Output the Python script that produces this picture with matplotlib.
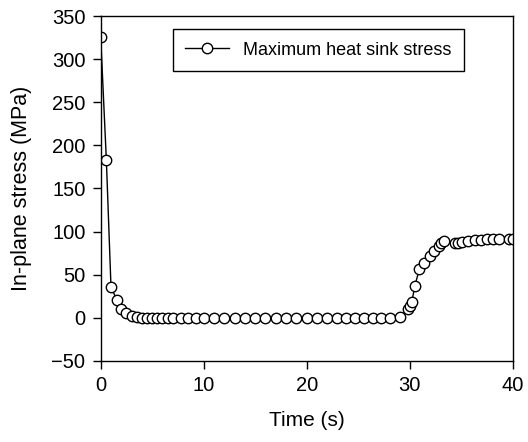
import matplotlib
matplotlib.use('Agg')
import matplotlib.pyplot as plt

plt.rcParams['font.family'] = ['Liberation Sans', 'DejaVu Sans']

# time (s) and maximum in-plane stress in the heat sink (MPa)
time_s = [0.0, 0.55, 1.0, 1.55, 2.0, 2.45, 3.0, 3.5, 4.0, 4.5, 5.0, 5.5, 6.0,
          6.5, 7.0, 7.75, 8.5, 9.25, 10, 11, 12, 13, 14, 15, 16, 17, 18, 19,
          20, 21, 22, 22.9, 23.8, 24.7, 25.6, 26.4, 27.2, 28.1, 29.05,
          29.8, 30.0, 30.2, 30.5, 30.95, 31.4, 32.0, 32.4, 32.8, 33.0, 33.3,
          34.4, 34.7, 35.1, 35.7, 36.3, 36.9, 37.5, 38.1, 38.7, 39.6, 40.0]
stress = [326, 183, 36, 21, 10, 6, 2, 0.5, 0, 0, 0, 0, 0,
          0, 0, 0, 0, 0, 0, 0, 0, 0, 0, 0, 0, 0, 0, 0,
          0, 0, 0, 0, 0, 0, 0, 0, 0, 0, 0.5,
          10, 14, 18, 37, 57, 64, 72, 78, 83, 87, 89,
          87, 87, 88, 89, 90, 90.5, 91, 91, 91, 91, 91]

fig = plt.figure(figsize=(5.28, 4.42), dpi=100)
ax = fig.add_axes([0.1907, 0.1833, 0.7803, 0.7805])

ax.plot(time_s, stress, color='black', linewidth=1.0, marker='o',
        markersize=7.5, markerfacecolor='white', markeredgecolor='black',
        markeredgewidth=1.0, label='Maximum heat sink stress')

ax.set_xlim(0, 40)
ax.set_ylim(-50, 350)
ax.set_xticks([0, 10, 20, 30, 40])
ax.set_yticks(range(-50, 351, 50))
ax.tick_params(direction='out', length=6, width=1, labelsize=14.5, pad=5)
for s in ax.spines.values():
    s.set_linewidth(1.0)

ax.set_xlabel('Time (s)', fontsize=15, labelpad=11)
ax.set_ylabel('In-plane stress (MPa)', fontsize=15.5, labelpad=14)

leg = ax.legend(loc='upper left', bbox_to_anchor=(0.175, 0.962),
                borderaxespad=0, fancybox=False, framealpha=1,
                edgecolor='black', fontsize=13, handlelength=2.4,
                borderpad=0.7)
leg.get_frame().set_linewidth(1.0)

fig.savefig('out.png', dpi=100)
